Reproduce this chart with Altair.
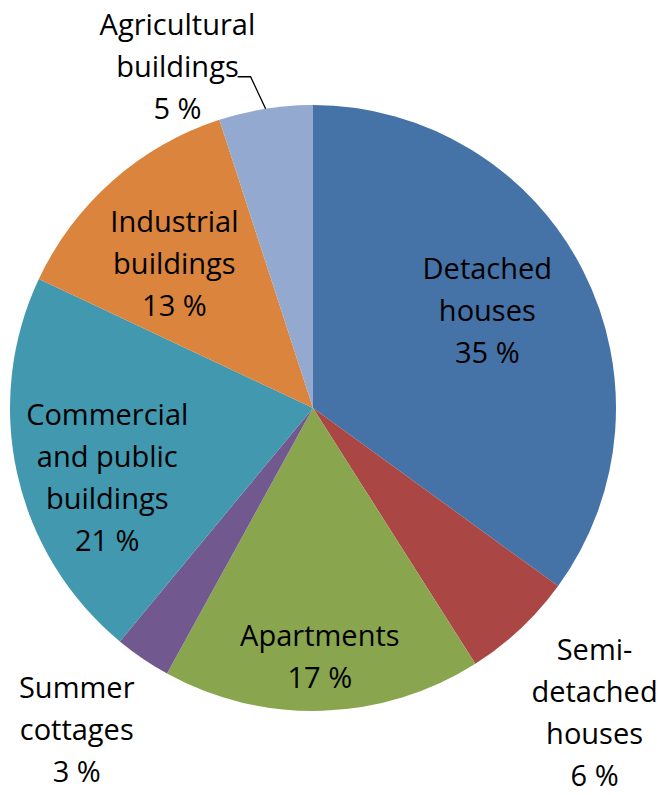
import altair as alt
import pandas as pd
import math

categories = ["Detached houses", "Semi-detached houses", "Apartments", "Summer cottages",
              "Commercial and public buildings", "Industrial buildings", "Agricultural buildings"]
shares = [35, 6, 17, 3, 21, 13, 5]
label_lines = [
    ["Detached", "houses", "35 %"],
    ["Semi-", "detached", "houses", "6 %"],
    ["Apartments", "17 %"],
    ["Summer", "cottages", "3 %"],
    ["Commercial", "and public", "buildings", "21 %"],
    ["Industrial", "buildings", "13 %"],
    ["Agricultural", "buildings", "5 %"],
]
colors = ["#4572A7", "#AA4643", "#89A54E", "#71588F", "#4198AF", "#DB843D", "#93A9CF"]

# layout (not data)
CX, CY, R = 305, 400, 303
FS, LH = 29, 42
label_layout = {  # radius, dx, dy (of the block centre)
    "Detached houses": (199, -3, -6),
    "Semi-detached houses": (423, -8, -2),
    "Apartments": (250, -1, 0),
    "Summer cottages": (399, -12, -7),
    "Commercial and public buildings": (218, 7, 23),
    "Industrial buildings": (199, -7, 6),
    "Agricultural buildings": (368, -78, 23),
}
FONT = "Open Sans"

total = sum(shares)
df = pd.DataFrame({
    "category": categories,
    "share": shares,
    "order": list(range(len(categories))),
    "label": ["\n".join(l) for l in label_lines],
})
df["mid"] = df["share"].cumsum() - df["share"] / 2
df["r"] = [label_layout[c][0] for c in categories]

color_scale = alt.Scale(domain=categories, range=colors)
theta_scale = alt.Scale(domain=[0, total], range=[0, 2 * math.pi])

arcs = alt.Chart(df).mark_arc(outerRadius=R).encode(
    theta=alt.Theta("share:Q", stack=True, scale=theta_scale),
    order=alt.Order("order:Q"),
    color=alt.Color("category:N", scale=color_scale, legend=None),
    x=alt.value(CX),
    y=alt.value(CY),
)

layers = [arcs]
for c, lines in zip(categories, label_lines):
    r, dx, dy = label_layout[c]
    shift = -(len(lines) - 1) * LH / 2
    t = alt.Chart(df).transform_filter(alt.datum.category == c).mark_text(
        font=FONT, fontSize=FS, lineBreak="\n", lineHeight=LH,
        align="center", baseline="middle", color="black", dx=dx, dy=dy + shift
    ).encode(
        theta=alt.Theta("mid:Q", stack=False, scale=theta_scale),
        radius=alt.Radius("r:Q", scale=None),
        text="label:N",
        x=alt.value(CX),
        y=alt.value(CY),
    )
    layers.append(t)

# leader line for the agricultural slice, derived from its mid-angle
ang = df["mid"].iloc[6] / total * 2 * math.pi
p1x = CX + R * math.sin(ang)
p1y = CY - R * math.cos(ang)
leader = pd.DataFrame({
    "px": [p1x, p1x - 15, p1x - 28],
    "py": [p1y, p1y - 32, p1y - 32],
    "k": [0, 1, 2],
})
line = alt.Chart(leader).mark_line(color="black", strokeWidth=1.3).encode(
    x=alt.X("px:Q", scale=None),
    y=alt.Y("py:Q", scale=None),
    order="k:Q",
)
layers.append(line)

chart = alt.layer(*layers).properties(
    width=648, height=779, autosize="none", padding=0
).configure_view(stroke=None)

chart.save("out.html", embed_options={"renderer": "svg", "actions": False})
